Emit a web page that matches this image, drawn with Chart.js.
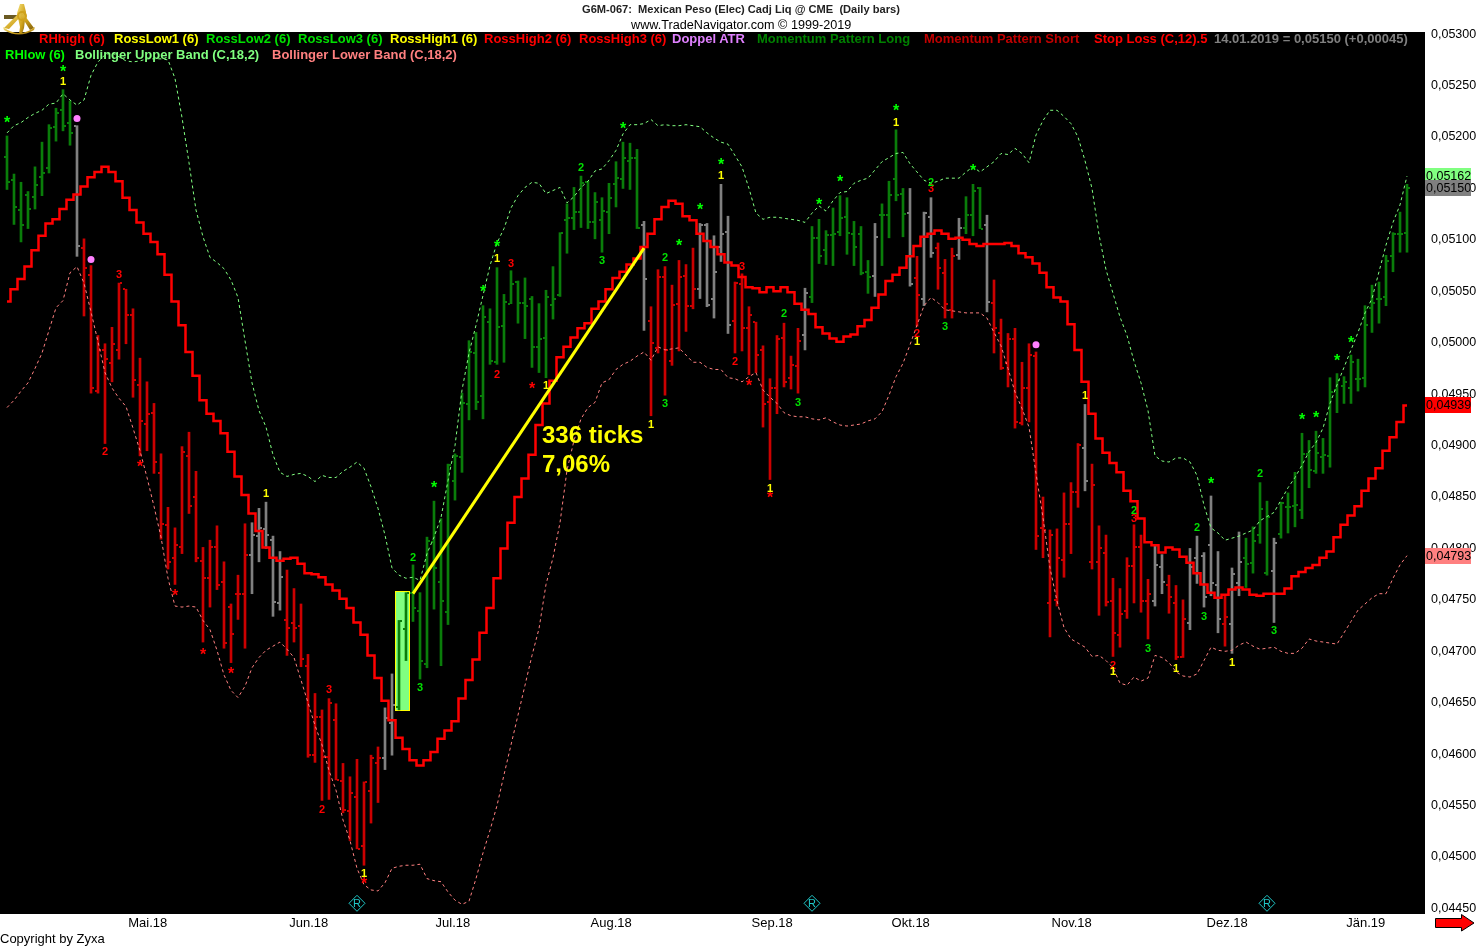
<!DOCTYPE html>
<html>
<head>
<meta charset="utf-8">
<title>G6M-067 Mexican Peso</title>
<script src="https://cdn.jsdelivr.net/npm/chart.js@4"></script>
<style>
  html, body { margin: 0; background: #fff; }
  #wrap { position: relative; width: 1483px; height: 947px; overflow: hidden; font-family: "Liberation Sans", Arial, sans-serif; }
  #wrap canvas { display: block; }
  .t { position: absolute; white-space: pre; line-height: 16px; }
  .leg { font-weight: bold; font-size: 13px; }
  .flag { position: absolute; left: 1425px; width: 46px; height: 16px; line-height: 16px; font-size: 12.5px; color: #000; white-space: pre; padding-left: 1px; box-sizing: border-box; }
  svg { position: absolute; }
</style>
</head>
<body>
<div id="wrap">
  <canvas id="chart" width="1483" height="947" style="width:1483px;height:947px"></canvas>
  <svg style="left:2px;top:2px" width="34" height="34" viewBox="0 0 34 34">
    <defs><linearGradient id="gold" x1="0" y1="0" x2="1" y2="1"><stop offset="0" stop-color="#f6e27a"/><stop offset="0.6" stop-color="#cfa21c"/><stop offset="1" stop-color="#7d5c0a"/></linearGradient></defs>
    <path d="M2 13h14v4H2z" fill="#6b5a22"/>
    <path d="M18 2h4l2 8-2 16-2 6h-3l1-7-3-14z" fill="url(#gold)"/>
    <path d="M2 26L18 10l3 2L7 27zM32 26L20 10l-2 2 10 16z" fill="url(#gold)"/>
    <path d="M1 25q16 12 32 0l-1 3q-15 9-30 0z" fill="url(#gold)"/>
    <circle cx="20" cy="14" r="4" fill="none" stroke="#cfa21c" stroke-width="2"/>
  </svg>
  <svg style="left:1435px;top:914px" width="40" height="18" viewBox="0 0 40 18">
    <path d="M0.5 4.5H26.5V0.5L39 9L26.5 17V13.5H0.5z" fill="#ff0000" stroke="#000" stroke-width="1"/>
  </svg>
</div>
<script>
// prices are in ticks: 1 tick = 0,00001
const highs = [
  5201,5164,5156,5147,5171,5195,5212,5228,5246,5235,
  5211,5101,5075,5007,4999,5015,5058,5052,5033,4985,
  4962,4941,4892,4840,4820,4899,4913,4875,4801,4808,
  4822,4787,4746,4774,4824,4825,4839,4845,4812,4797,
  4779,4761,4746,4697,4659,4643,4654,4649,4591,4578,
  4595,4573,4599,4607,4645,4678,4730,4757,4784,4757,
  4811,4846,4829,4882,4892,4951,5002,5010,5036,5033,
  5073,5047,5070,5060,5063,5045,5038,5051,5074,5107,
  5135,5151,5162,5157,5146,5141,5155,5176,5195,5194,
  5188,5118,5035,5071,5074,5056,5080,5076,5092,5116,
  5116,5104,5154,5123,5059,5067,5035,5020,4997,4965,
  5007,5019,4987,5014,5053,5113,5120,5109,5131,5143,
  5141,5118,5113,5080,5116,5135,5157,5207,5150,5150,
  5084,5127,5141,5097,5081,5092,5121,5142,5154,5151,
  5124,5061,5023,5009,5014,4981,4999,4991,4850,4818,
  4819,4854,4864,4902,4940,4882,4822,4813,4771,4761,
  4791,4823,4813,4770,4804,4794,4774,4764,4750,4800,
  4812,4796,4851,4797,4755,4781,4816,4810,4821,4864,
  4846,4810,4845,4854,4874,4912,4905,4914,4907,4966,
  4970,4967,4988,4984,5036,5056,5059,5085,5107,5127,5154
];
const lows = [
  5149,5115,5098,5111,5130,5143,5165,5196,5206,5192,
  5084,5026,4951,4951,4902,4962,4984,4999,4947,4890,
  4895,4873,4809,4780,4765,4795,4834,4787,4709,4743,
  4760,4703,4689,4731,4703,4756,4787,4800,4734,4740,
  4696,4709,4685,4597,4592,4555,4556,4575,4543,4516,
  4508,4492,4533,4553,4585,4599,4643,4691,4729,4673,
  4684,4741,4686,4726,4847,4874,4925,4935,4926,4979,
  4979,4981,5038,5019,5004,4976,4971,4966,5023,5045,
  5087,5110,5112,5111,5101,5088,5106,5132,5150,5149,
  5111,5012,4929,4990,4949,4978,4992,5011,5033,5043,
  5035,5024,5079,5009,4990,4992,4969,4971,4918,4867,
  4931,4957,4955,4951,4993,5039,5077,5076,5075,5104,
  5086,5075,5066,5048,5045,5075,5102,5138,5103,5055,
  5016,5036,5083,5052,5024,5024,5081,5106,5104,5111,
  5030,4990,4974,4957,4917,4920,4923,4799,4791,4714,
  4744,4772,4795,4840,4856,4780,4735,4744,4695,4704,
  4732,4747,4738,4712,4744,4756,4737,4692,4694,4721,
  4766,4743,4754,4718,4705,4698,4754,4762,4776,4805,
  4774,4728,4810,4815,4821,4829,4859,4873,4873,4879,
  4932,4941,4941,4953,4957,5010,5019,5036,5069,5088,5088
];
const opens = [
  5181,5158,5129,5144,5142,5161,5170,5210,5226,5214,
  5211,5092,5066,4953,4993,4980,4993,5052,5027,4959,
  4921,4932,4873,4823,4791,4801,4890,4850,4788,4771,
  4801,4767,4743,4756,4756,4794,4812,4819,4808,4747,
  4730,4728,4725,4686,4599,4636,4597,4633,4574,4545,
  4558,4511,4564,4591,4596,4630,4646,4722,4757,4739,
  4688,4806,4767,4738,4866,4889,4940,4990,4948,5020,
  4981,5016,5038,5059,5039,5043,4996,5005,5037,5046,
  5119,5121,5127,5156,5117,5119,5127,5154,5159,5177,
  5180,5114,5021,4995,5064,4982,5038,5065,5036,5052,
  5114,5043,5093,5108,5021,5057,5014,5020,4993,4942,
  4956,5005,4966,4977,5008,5044,5102,5090,5105,5108,
  5122,5106,5106,5069,5065,5124,5124,5159,5145,5126,
  5063,5043,5122,5092,5068,5032,5085,5112,5124,5150,
  5114,5039,5009,4980,5004,4922,4956,4987,4820,4747,
  4750,4789,4824,4855,4898,4787,4787,4796,4749,4716,
  4739,4783,4801,4749,4749,4782,4764,4747,4694,4728,
  4791,4793,4803,4764,4727,4727,4766,4791,4786,4813,
  4776,4778,4814,4840,4841,4837,4892,4875,4889,4890,
  4954,4958,4956,4965,4966,5034,5043,5044,5084,5106,5107
];
const closes = [
  5156,5132,5114,5130,5153,5165,5209,5223,5211,5204,
  5094,5073,4956,4993,4984,4999,5058,5027,4964,4924,
  4931,4884,4824,4787,4803,4894,4841,4791,4771,4801,
  4764,4708,4717,4756,4794,4813,4820,4813,4748,4772,
  4723,4723,4693,4599,4636,4597,4650,4575,4546,4562,
  4508,4573,4596,4596,4635,4648,4729,4757,4742,4691,
  4807,4781,4749,4881,4890,4941,4991,4942,5025,4982,
  5015,5040,5057,5039,5036,4996,5004,5044,5043,5107,
  5121,5127,5155,5117,5137,5128,5141,5160,5180,5180,
  5112,5062,5000,5064,4993,5037,5064,5036,5052,5114,
  5037,5069,5106,5017,5058,5014,5027,4988,4940,4956,
  5004,4962,4978,5002,5048,5102,5084,5105,5106,5121,
  5107,5093,5068,5064,5103,5124,5144,5144,5125,5057,
  5046,5126,5087,5073,5038,5084,5112,5124,5148,5111,
  5040,5014,4975,5004,4923,4956,4988,4812,4818,4813,
  4791,4824,4855,4901,4866,4862,4800,4748,4718,4736,
  4783,4801,4749,4756,4784,4767,4753,4694,4731,4782,
  4776,4753,4766,4731,4733,4775,4787,4785,4807,4838,
  4831,4805,4844,4840,4842,4892,4876,4893,4891,4952,
  4964,4962,4981,4965,5017,5039,5043,5079,5106,5106,5150
];
// last bar of each colour run
const colorRuns = [
  [9,"g"],[10,"x"],[34,"r"],[39,"x"],[53,"r"],[55,"x"],[90,"g"],[91,"x"],[98,"r"],[103,"x"],
  [113,"r"],[114,"x"],[123,"g"],[124,"x"],[128,"g"],[129,"x"],[130,"r"],[132,"x"],[135,"r"],[136,"x"],
  [139,"g"],[140,"x"],[153,"r"],[154,"x"],[163,"r"],[165,"x"],[168,"r"],[173,"x"],[174,"r"],[176,"x"],
  [180,"g"],[181,"x"],[200,"g"]
];
const stopLoss = [
  5040,5052,5062,5074,5090,5104,5116,5120,5130,5139,
  5144,5152,5161,5166,5171,5166,5157,5141,5129,5117,
  5106,5098,5086,5066,5040,5017,4991,4968,4944,4931,
  4924,4912,4894,4870,4852,4834,4817,4801,4791,4788,
  4790,4791,4785,4776,4775,4772,4765,4759,4751,4742,
  4728,4716,4696,4674,4652,4633,4616,4605,4594,4589,
  4594,4602,4615,4623,4632,4654,4672,4692,4718,4742,
  4771,4800,4825,4850,4868,4891,4920,4941,4963,4986,
  4996,5005,5014,5019,5033,5040,5052,5063,5069,5076,
  5082,5093,5106,5120,5132,5138,5135,5123,5119,5106,
  5099,5093,5086,5078,5075,5064,5054,5053,5049,5054,
  5050,5054,5049,5038,5032,5028,5015,5009,5004,5001,
  5006,5008,5016,5022,5034,5047,5060,5066,5073,5084,
  5094,5103,5106,5109,5106,5101,5102,5100,5096,5094,
  5096,5096,5096,5097,5094,5087,5083,5077,5068,5054,
  5044,5040,5018,4993,4962,4931,4907,4893,4883,4874,
  4856,4846,4829,4806,4803,4796,4801,4799,4792,4786,
  4776,4765,4757,4752,4755,4760,4762,4760,4755,4754,
  4756,4756,4756,4761,4773,4777,4781,4784,4791,4797,
  4811,4823,4832,4841,4856,4868,4878,4895,4908,4923,4939
];
const upperBand = [
  5204,5211,5214,5219,5223,5226,5232,5233,5242,5236,
  5231,5236,5260,5273,5280,5282,5278,5274,5273,5274,
  5276,5276,5276,5275,5257,5219,5175,5129,5103,5083,
  5078,5072,5061,5044,5002,4961,4934,4918,4891,4874,
  4870,4872,4873,4870,4865,4871,4869,4869,4875,4879,
  4884,4878,4860,4839,4813,4781,4774,4771,4772,4769,
  4795,4811,4830,4866,4900,4954,4990,5017,5046,5075,
  5097,5111,5131,5143,5151,5156,5155,5145,5148,5151,
  5136,5142,5151,5157,5167,5169,5177,5187,5203,5212,
  5212,5213,5217,5211,5212,5211,5211,5212,5211,5210,
  5204,5199,5195,5193,5182,5171,5150,5126,5120,5122,
  5122,5121,5120,5119,5117,5126,5133,5128,5138,5146,
  5147,5155,5158,5160,5168,5176,5180,5184,5185,5174,
  5166,5158,5155,5157,5160,5160,5160,5166,5171,5166,
  5171,5176,5184,5183,5189,5184,5175,5202,5216,5226,
  5226,5220,5213,5200,5177,5150,5105,5071,5048,5025,
  5007,4982,4961,4934,4890,4885,4884,4888,4888,4884,
  4871,4842,4820,4815,4808,4810,4812,4815,4818,4827,
  4831,4835,4847,4859,4869,4881,4894,4903,4917,4941,
  4959,4976,4993,5010,5029,5043,5069,5095,5117,5134,5162
];
const lowerBand = [
  4937,4944,4953,4961,4975,4990,5012,5034,5041,5068,
  5074,5058,5030,5001,4971,4956,4946,4938,4917,4895,
  4869,4841,4811,4771,4744,4743,4744,4743,4730,4721,
  4701,4677,4662,4655,4666,4684,4694,4701,4705,4709,
  4702,4694,4672,4650,4628,4609,4584,4565,4536,4516,
  4489,4473,4468,4467,4475,4489,4491,4492,4492,4493,
  4479,4477,4476,4466,4458,4454,4457,4479,4504,4526,
  4550,4580,4609,4638,4667,4696,4722,4765,4791,4825,
  4876,4905,4926,4937,4942,4961,4964,4974,4979,4982,
  4987,4991,4983,4996,4993,4994,4995,4988,4981,4981,
  4976,4974,4974,4966,4965,4962,4967,4971,4954,4947,
  4941,4932,4929,4928,4928,4926,4925,4927,4923,4920,
  4919,4920,4921,4924,4926,4933,4949,4967,4980,4998,
  5017,5036,5044,5039,5032,5031,5030,5029,5029,5029,
  5024,5010,4997,4975,4952,4936,4918,4873,4830,4781,
  4749,4723,4712,4708,4704,4695,4696,4691,4684,4669,
  4667,4675,4671,4674,4696,4694,4689,4680,4676,4675,
  4678,4691,4704,4701,4700,4701,4706,4709,4705,4702,
  4703,4704,4700,4698,4698,4703,4712,4710,4709,4708,
  4707,4718,4729,4740,4746,4752,4756,4756,4771,4784,4793
];
// the 336 tick move, bar index and price
const moveBars = [58, 91];
const moveTicks = [4756, 5092];
// signal marks: [bar, price]
const greenStars = [[0,5217],[8,5267],[61,4862],[68,5053],[70,5096],[88,5211],[96,5097],[99,5132],[102,5176],[116,5137],[119,5160],[127,5229],[138,5170],[172,4866],[185,4928],[187,4930],[190,4986],[192,5003]];
const redStars = [[19,4883],[24,4757],[28,4700],[32,4681],[51,4477],[75,4958],[106,4961],[109,4852]];
const yellowOnes = [[8,5254],[37,4854],[51,4484],[70,5082],[77,4959],[92,4921],[102,5163],[109,4859],[127,5215],[130,5002],[154,4949],[158,4681],[167,4684],[175,4690]];
const redTwos = [[14,4895],[45,4547],[70,4970],[104,4982],[130,5009],[158,4687]];
const redThrees = [[16,5067],[46,4663],[72,5078],[105,5075],[132,5150],[161,4830]];
const greenTwos = [[58,4792],[82,5171],[94,5083],[111,5029],[132,5156],[161,4837],[170,4821],[179,4873]];
const greenThrees = [[59,4665],[85,5080],[94,4941],[113,4942],[134,5016],[163,4703],[171,4734],[181,4721]];
const pinkDots = [[10,5218],[12,5081],[147,4998]];
const rollDiamonds = [[50,4455],[115,4455],[180,4455]];

const monthLabels = ["Mai.18","Jun.18","Jul.18","Aug.18","Sep.18","Okt.18","Nov.18","Dez.18","Jän.19"];
const monthBars = [20.1,43.1,63.7,86.3,109.3,129.1,152.1,174.3,194.1];

const legendRow1 = [
  ["RHhigh (6)","#ff0000",39],["RossLow1 (6)","#ffff00",114],["RossLow2 (6)","#00e000",206],["RossLow3 (6)","#00e000",298],
  ["RossHigh1 (6)","#ffff00",390],["RossHigh2 (6)","#ff0000",484],["RossHigh3 (6)","#ff0000",579],["Doppel ATR","#e080ff",672],
  ["Momentum Pattern Long","#008000",757],["Momentum Pattern Short","#c00000",924],["Stop Loss (C,12).5","#ff0000",1094],
  ["14.01.2019 = 0,05150 (+0,00045)","#808080",1214]
];
const legendRow2 = [
  ["RHlow (6)","#00ff00",5],["Bollinger Upper Band (C,18,2)","#80ff80",75],["Bollinger Lower Band (C,18,2)","#ff8080",272]
];
const flags = [
  ["0,05162","#80ff80",168],["0,05150","#808080",180],["0,04939","#ff0000",397],["0,04793","#ff8080",548]
];

const wrap = document.getElementById("wrap");
function addText(txt, css, cls) {
  const d = document.createElement("div");
  d.className = cls || "t";
  d.textContent = txt;
  d.style.cssText = css;
  wrap.appendChild(d);
}
addText("G6M-067:  Mexican Peso (Elec) Cadj Liq @ CME  (Daily bars)", "left:582px;top:1px;font-size:11.1px;font-weight:bold;color:#222");
addText("www.TradeNavigator.com © 1999-2019", "left:631px;top:17px;font-size:12.65px;color:#000");
addText("Copyright by Zyxa", "left:0;top:931px;font-size:13px;color:#000");
legendRow1.forEach(l => addText(l[0], "left:" + l[2] + "px;top:31px;color:" + l[1], "t leg"));
legendRow2.forEach(l => addText(l[0], "left:" + l[2] + "px;top:47px;color:" + l[1], "t leg"));
flags.forEach(f => addText(f[0], "top:" + f[2] + "px;background:" + f[1], "flag"));

const barColors = { g: "#0a7d0a", r: "#cc0000", x: "#808080" };
function colorOf(i) {
  for (const run of colorRuns) if (i <= run[0]) return barColors[run[1]];
  return barColors.x;
}
const pts = arr => arr.map((y, x) => ({ x, y }));
const pairs = arr => arr.map(p => ({ x: p[0], y: p[1] }));
const glyphSet = (arr, glyph, color, font) => ({
  type: "scatter", data: pairs(arr), pointRadius: 0, glyph, glyphColor: color, glyphFont: font, order: 1
});

const background = {
  id: "background",
  beforeDatasetsDraw(chart) {
    const { ctx, chartArea: a, scales: { x, y } } = chart;
    ctx.save();
    ctx.fillStyle = "#000";
    ctx.fillRect(a.left, a.top, a.width, a.height);
    // highlighted bars
    const x0 = Math.round(x.getPixelForValue(55.4)), x1 = Math.round(x.getPixelForValue(57.5));
    const y0 = Math.round(y.getPixelForValue(4759)), y1 = Math.round(y.getPixelForValue(4642));
    ctx.fillStyle = "#80ff80";
    ctx.fillRect(x0, y0, x1 - x0, y1 - y0);
    ctx.strokeStyle = "#ffff00";
    ctx.lineWidth = 1;
    ctx.strokeRect(x0 + 0.5, y0 + 0.5, x1 - x0 - 1, y1 - y0 - 1);
    ctx.restore();
  }
};

// open/close ticks on the bars
const ohlcTicks = {
  id: "ohlcTicks",
  afterDatasetDraw(chart, args) {
    if (args.index !== 0) return;
    const { ctx, scales: { x, y } } = chart;
    ctx.save();
    highs.forEach((h, i) => {
      const px = Math.round(x.getPixelForValue(i));
      ctx.fillStyle = colorOf(i);
      ctx.fillRect(px - 3, Math.round(y.getPixelForValue(opens[i])) - 1, 2, 2);
      ctx.fillRect(px + 1, Math.round(y.getPixelForValue(closes[i])) - 1, 2, 2);
    });
    ctx.restore();
  }
};

const glyphs = {
  id: "glyphs",
  afterDatasetsDraw(chart) {
    const { ctx, scales: { x, y } } = chart;
    ctx.save();
    ctx.textAlign = "center";
    ctx.textBaseline = "alphabetic";
    chart.data.datasets.forEach(ds => {
      if (!ds.glyph) return;
      ctx.font = ds.glyphFont;
      ctx.fillStyle = ds.glyphColor;
      const m = ctx.measureText(ds.glyph);
      const off = (m.actualBoundingBoxAscent - m.actualBoundingBoxDescent) / 2;
      ds.data.forEach(p => ctx.fillText(ds.glyph, x.getPixelForValue(p.x), y.getPixelForValue(p.y) + off));
    });
    ctx.fillStyle = "#ffff00";
    ctx.font = "bold 24px 'Liberation Sans'";
    ctx.textAlign = "left";
    ctx.textBaseline = "middle";
    ctx.fillText("336 ticks", x.getPixelForValue(76.43), y.getPixelForValue(4909));
    ctx.fillText("7,06%", x.getPixelForValue(76.43), y.getPixelForValue(4881));
    ctx.restore();
  }
};

new Chart(document.getElementById("chart").getContext("2d"), {
  type: "bar",
  data: {
    datasets: [
      {
        type: "bar",
        data: highs.map((h, i) => ({ x: i, y: [lows[i], h] })),
        backgroundColor: highs.map((h, i) => colorOf(i)),
        barThickness: 2,
        grouped: false,
        borderWidth: 0,
        order: 10
      },
      { type: "line", data: pts(upperBand), borderColor: "#80ff80", borderWidth: 1, borderDash: [3, 3], pointRadius: 0, tension: 0, order: 6 },
      { type: "line", data: pts(lowerBand), borderColor: "#ff8080", borderWidth: 1, borderDash: [3, 3], pointRadius: 0, tension: 0, order: 6 },
      { type: "line", data: pts(stopLoss), borderColor: "#ff0000", borderWidth: 2.5, stepped: "middle", pointRadius: 0, order: 5 },
      { type: "line", data: moveBars.map((b, i) => ({ x: b, y: moveTicks[i] })), borderColor: "#ffff00", borderWidth: 3, pointRadius: 0, order: 4 },
      { type: "scatter", data: pairs(pinkDots), pointRadius: 3.5, pointBackgroundColor: "#ff80ff", pointBorderWidth: 0, order: 2 },
      { type: "scatter", data: pairs(rollDiamonds), pointStyle: "rectRot", pointRadius: 8, pointBackgroundColor: "rgba(0,0,0,0)", pointBorderColor: "#20c8c8", pointBorderWidth: 1, order: 2 },
      glyphSet(rollDiamonds, "R", "#20c8c8", "11px 'Liberation Sans'"),
      glyphSet(greenStars, "*", "#00ff00", "bold 16px 'Liberation Sans'"),
      glyphSet(redStars, "*", "#ff0000", "bold 16px 'Liberation Sans'"),
      glyphSet(redTwos, "2", "#ff0000", "bold 11px 'Liberation Sans'"),
      glyphSet(redThrees, "3", "#ff0000", "bold 11px 'Liberation Sans'"),
      glyphSet(greenTwos, "2", "#00e000", "bold 11px 'Liberation Sans'"),
      glyphSet(greenThrees, "3", "#00e000", "bold 11px 'Liberation Sans'"),
      glyphSet(yellowOnes, "1", "#ffff00", "bold 11px 'Liberation Sans'")
    ]
  },
  options: {
    responsive: false,
    animation: false,
    layout: { autoPadding: false, padding: { top: 32 } },
    plugins: { legend: { display: false }, title: { display: false }, tooltip: { enabled: false } },
    scales: {
      x: {
        type: "linear",
        offset: false,
        min: -1,
        max: 202.571,
        grid: { display: false, drawTicks: false },
        border: { display: false },
        afterBuildTicks: s => { s.ticks = monthBars.map(value => ({ value })); },
        afterFit: s => { s.height = 33; s.paddingLeft = 0; s.paddingRight = 0; },
        ticks: {
          autoSkip: false,
          maxRotation: 0,
          padding: 2,
          color: "#000",
          font: { family: "'Liberation Sans'", size: 13 },
          callback: v => monthLabels[monthBars.indexOf(v)]
        }
      },
      y: {
        position: "right",
        min: 4444.6,
        max: 5302.1,
        grid: { display: false, drawTicks: false },
        border: { display: false },
        afterFit: s => { s.width = 58; s.paddingTop = 0; s.paddingBottom = 0; },
        ticks: {
          stepSize: 50,
          includeBounds: false,
          padding: 6,
          color: "#000",
          font: { family: "'Liberation Sans'", size: 12.5 },
          callback: v => "0,0" + v
        }
      }
    }
  },
  plugins: [background, ohlcTicks, glyphs]
});
</script>
</body>
</html>
